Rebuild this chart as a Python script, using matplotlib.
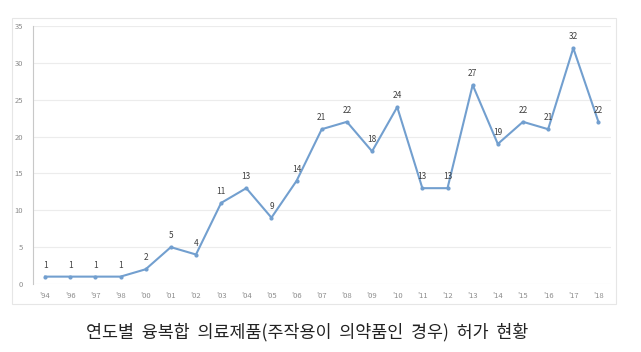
import matplotlib
matplotlib.use("Agg")
import matplotlib.pyplot as plt
from matplotlib.patches import Rectangle

years = ["'94", "'96", "'97", "'98", "'00", "'01", "'02", "'03", "'04", "'05", "'06", "'07",
         "'08", "'09", "'10", "'11", "'12", "'13", "'14", "'15", "'16", "'17", "'18"]
counts = [1, 1, 1, 1, 2, 5, 4, 11, 13, 9, 14, 21, 22, 18, 24, 13, 13, 27, 19, 22, 21, 32, 22]
yticks = [0, 5, 10, 15, 20, 25, 30, 35]
title = "연도별  융복합  의료제품(주작용이  의약품인  경우)  허가  현황"

plt.rcParams['font.family'] = ['Noto Sans CJK KR', 'DejaVu Sans']

fig = plt.figure(figsize=(6.41, 3.52), dpi=100)
fig.patch.set_facecolor('white')

# outer chart frame
fig.patches.append(Rectangle((12/641, 1-304/352), (616-12)/641, (304-18)/352,
                             transform=fig.transFigure, fill=False,
                             edgecolor='#E6E6E6', linewidth=0.8))

ax = fig.add_axes([32.5/641, 1-284/352, (611-32.5)/641, (284-26)/352])
x = list(range(len(years)))
ax.plot(x, counts, color='#729FCF', linewidth=1.5, marker='o', markersize=2.0,
        markerfacecolor='#729FCF', markeredgecolor='#729FCF')
for xi, v in zip(x, counts):
    ax.annotate(str(v), (xi, v), xytext=(0, 5), textcoords='offset points',
                ha='center', va='bottom', fontsize=6, color='#404040',
                family=['Noto Sans CJK KR', 'DejaVu Sans'])

ax.set_xlim(-0.5, len(years) - 0.5)
ax.set_ylim(0, 35)
ax.set_yticks(yticks)
ax.set_yticklabels([str(t) for t in yticks])
ax.set_xticks(x)
ax.set_xticklabels(years)
ax.tick_params(axis='both', length=0, labelsize=5.5, labelcolor='#8C8C8C')
ax.tick_params(axis='y', pad=7)
ax.tick_params(axis='x', pad=6)
ax.grid(axis='y', color='#ECECEC', linewidth=0.8)
ax.set_axisbelow(True)
for s in ['top', 'right', 'bottom']:
    ax.spines[s].set_visible(False)
ax.spines['left'].set_color('#C8C8C8')
ax.spines['left'].set_linewidth(0.8)

fig.text(307/641, 1-332/352, title, ha='center', va='center', fontsize=12.5,
         color='#222222', fontweight='medium')

fig.savefig('out.png', dpi=100)
